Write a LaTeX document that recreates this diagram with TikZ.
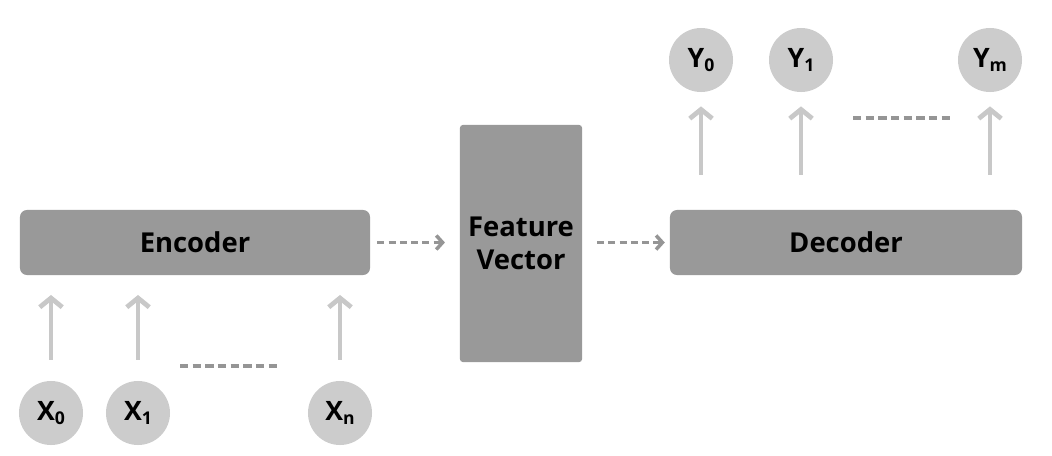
\documentclass[tikz,border=0pt]{standalone}
\usepackage{fontspec}
\setmainfont{Open Sans}
\usetikzlibrary{arrows.meta}

\definecolor{blockgray}{HTML}{999999}
\definecolor{tokengray}{HTML}{CCCCCC}
\definecolor{arrowgray}{HTML}{C8C8C8}
\definecolor{dashgray}{HTML}{959595}

% pedice grande per le etichette dei token
\newcommand{\tokidx}[1]{{\fontsize{12.5}{12.5}\selectfont\raisebox{-3pt}{#1}}}

\begin{document}
\begin{tikzpicture}[x=0.025cm, y=-0.025cm, font=\bfseries,
        block/.style={fill=blockgray, rounded corners=5pt, minimum height=1.625cm,
            inner sep=0pt, font=\fontsize{19.5}{23.5}\selectfont\bfseries},
        token/.style={circle, fill=tokengray, minimum size=1.6cm, inner sep=0pt,
            font=\fontsize{19}{19}\selectfont\bfseries},
        uparrow/.style={draw=arrowgray, line width=3.4pt,
            -{Straight Barb[length=6.5pt, width=16pt]}},
        flow/.style={draw=dashgray, line width=2.5pt, dash pattern=on 5pt off 3pt,
            -{Straight Barb[length=4.5pt, width=10pt]}},
        gap/.style={draw=dashgray, line width=2.5pt, dash pattern=on 6pt off 3pt}]

        \useasboundingbox (0, 0) rectangle (1052, 455);

        % --- Blocchi principali ---
        \node[block, minimum width=8.75cm] (enc) at (195, 242.5) {Encoder};
        \node[block, rounded corners=2pt, minimum width=3.05cm, minimum height=5.925cm,
            align=center] (fv) at (521, 243.5) {Feature\\Vector};
        \node[block, minimum width=8.8cm] (dec) at (846, 242.5) {Decoder};

        % --- Token di ingresso ---
        \node[token] (x0) at (51, 413) {X\tokidx{0}};
        \node[token] (x1) at (138, 413) {X\tokidx{1}};
        \node[token] (xn) at (340, 413) {X\tokidx{n}};

        % --- Token di uscita ---
        \node[token] (y0) at (701, 60) {Y\tokidx{0}};
        \node[token] (y1) at (801, 60) {Y\tokidx{1}};
        \node[token] (ym) at (990, 60) {Y\tokidx{m}};

        % --- Frecce verso l'Encoder ---
        \draw[uparrow, shorten <=15pt, shorten >=14pt] (x0.north) -- (x0.north |- enc.south);
        \draw[uparrow, shorten <=15pt, shorten >=14pt] (x1.north) -- (x1.north |- enc.south);
        \draw[uparrow, shorten <=15pt, shorten >=14pt] (xn.north) -- (xn.north |- enc.south);

        % --- Frecce dal Decoder ---
        \draw[uparrow, shorten <=25pt, shorten >=10pt] (y0.south |- dec.north) -- (y0.south);
        \draw[uparrow, shorten <=25pt, shorten >=10pt] (y1.south |- dec.north) -- (y1.south);
        \draw[uparrow, shorten <=25pt, shorten >=10pt] (ym.south |- dec.north) -- (ym.south);

        % --- Puntini tra i token ---
        \coordinate (xgapL) at (180, 366);
        \coordinate (xgapR) at (280, 366);
        \coordinate (ygapL) at (853, 118);
        \coordinate (ygapR) at (952, 118);
        \draw[gap] (xgapL) -- (xgapR);
        \draw[gap] (ygapL) -- (ygapR);

        % --- Flusso Encoder -> Feature Vector -> Decoder ---
        \draw[flow, shorten <=5pt, shorten >=10.5pt] (enc.east) -- (fv.west |- enc.east);
        \draw[flow, shorten <=10.5pt, shorten >=3.5pt] (fv.east |- dec.west) -- (dec.west);

    \end{tikzpicture}
\end{document}
